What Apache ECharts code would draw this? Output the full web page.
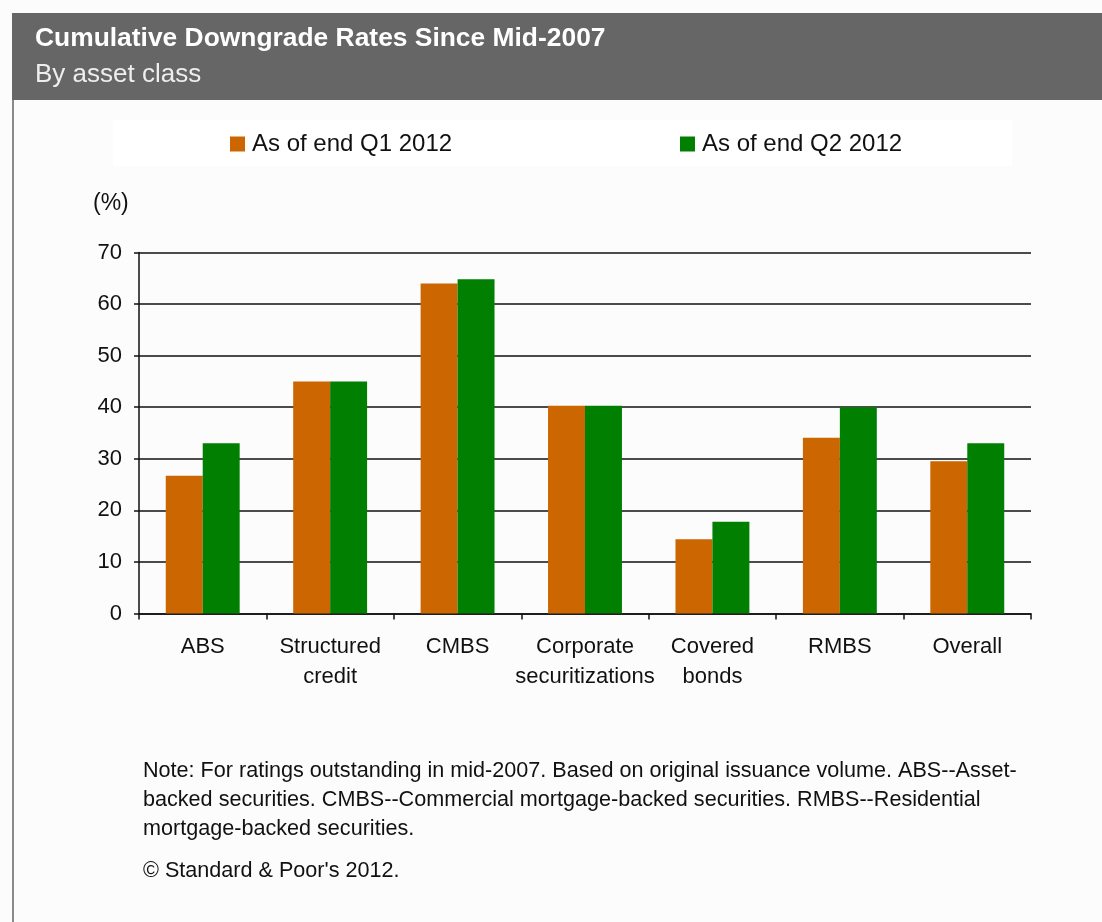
<!DOCTYPE html>
<html>
<head>
<meta charset="utf-8">
<title>Cumulative Downgrade Rates Since Mid-2007</title>
<script src="https://cdn.jsdelivr.net/npm/echarts@6/dist/echarts.min.js"></script>
<style>
  html, body { margin: 0; padding: 0; background: #fcfcfc; }
  #chart { width: 1102px; height: 922px; }
</style>
</head>
<body>
<div id="chart"></div>
<script>
// Asset classes along the x axis
const categories = ['ABS', 'Structured\ncredit', 'CMBS', 'Corporate\nsecuritizations', 'Covered\nbonds', 'RMBS', 'Overall'];
// Cumulative downgrade rates (%)
const q1Values = [26.7, 45.0, 64.0, 40.3, 14.4, 34.1, 29.5];
const q2Values = [33.0, 45.0, 64.8, 40.3, 17.8, 40.0, 33.0];
const seriesNames = ['As of end Q1 2012', 'As of end Q2 2012'];
const yTicks = [0, 10, 20, 30, 40, 50, 60, 70];

const FONT = '"Liberation Sans", Arial, sans-serif';
const chart = echarts.init(document.getElementById('chart'), null, { renderer: 'canvas' });

const legendText = { fontSize: 24, fontFamily: FONT, color: '#111', padding: [0, 0, 0, 2] };

const option = {
  backgroundColor: '#fcfcfc',
  animation: false,
  textStyle: { fontFamily: FONT, color: '#111' },
  graphic: [
    // header band
    { type: 'rect', left: 12, top: 13, shape: { width: 1090, height: 87 }, style: { fill: '#666666' }, z: 0 },
    { type: 'text', left: 35, top: 26, style: { text: 'Cumulative Downgrade Rates Since Mid-2007', fill: '#ffffff', font: 'bold 26.4px ' + FONT } },
    { type: 'text', left: 35, top: 62, style: { text: 'By asset class', fill: '#eeeeee', font: '26px ' + FONT } },
    // left frame line
    { type: 'rect', left: 12, top: 100, shape: { width: 2, height: 822 }, style: { fill: '#8a8a8a' } },
    // legend panel
    { type: 'rect', left: 113, top: 120, shape: { width: 899, height: 46 }, style: { fill: '#ffffff' }, z: 0 },
    // unit label
    { type: 'text', left: 93, top: 192, style: { text: '(%)', fill: '#111', font: '23px ' + FONT } },
    // notes
    { type: 'text', left: 143, top: 757, style: {
        text: 'Note: For ratings outstanding in mid-2007. Based on original issuance volume. ABS--Asset-\nbacked securities. CMBS--Commercial mortgage-backed securities. RMBS--Residential\nmortgage-backed securities.',
        fill: '#111', font: '21.6px ' + FONT, lineHeight: 29 } },
    { type: 'text', left: 143, top: 860, style: { text: '\u00A9 Standard & Poor\'s 2012.', fill: '#111', font: '21.6px ' + FONT } }
  ],
  legend: [
    { data: [seriesNames[0]], left: 225, top: 127, icon: 'rect', itemWidth: 15, itemHeight: 15, textStyle: legendText },
    { data: [seriesNames[1]], left: 675, top: 127, icon: 'rect', itemWidth: 15, itemHeight: 15, textStyle: legendText }
  ],
  grid: { left: 139, right: 71, top: 252.5, bottom: 308.5 },
  xAxis: {
    type: 'category',
    data: categories,
    axisLine: { lineStyle: { color: '#111', width: 1.5 } },
    axisTick: { show: true, length: 6, lineStyle: { color: '#111', width: 1.5 } },
    axisLabel: { interval: 0, fontSize: 22, fontFamily: FONT, color: '#111', margin: 18, lineHeight: 30 }
  },
  yAxis: {
    type: 'value',
    min: 0,
    max: 70,
    interval: 10,
    axisLine: { show: true, lineStyle: { color: '#111', width: 1.5 } },
    axisTick: { show: true, length: 5, lineStyle: { color: '#111', width: 1.5 } },
    axisLabel: { fontSize: 22, fontFamily: FONT, color: '#111', margin: 17,
      formatter: v => (yTicks.indexOf(v) >= 0 ? String(v) : '') },
    splitLine: { lineStyle: { color: '#111', width: 1.5 } }
  },
  series: [
    { name: seriesNames[0], type: 'bar', data: q1Values, barGap: '0%', barCategoryGap: '42%',
      itemStyle: { color: '#cc6600' } },
    { name: seriesNames[1], type: 'bar', data: q2Values, barGap: '0%', barCategoryGap: '42%',
      itemStyle: { color: '#007f00' } }
  ]
};

chart.setOption(option);
</script>
</body>
</html>
